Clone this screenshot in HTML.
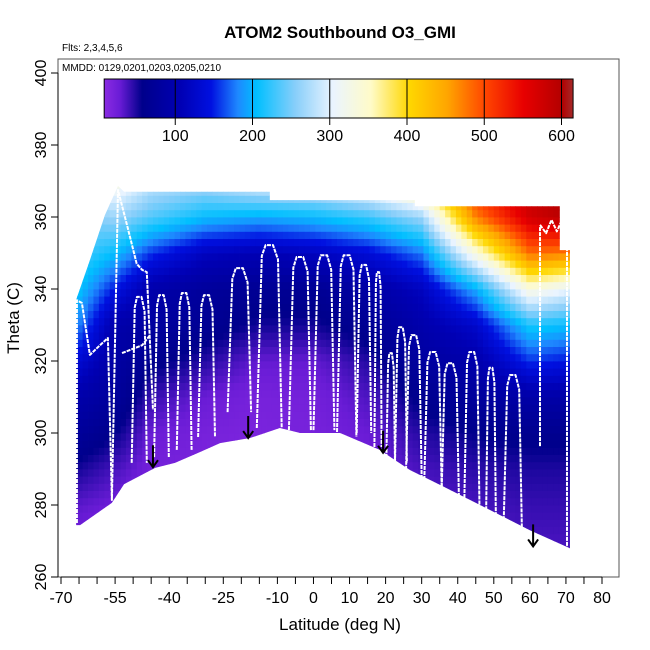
<!DOCTYPE html>
<html><head><meta charset="utf-8"><style>
body{margin:0;background:#fff}
svg{display:block;font-family:"Liberation Sans",Arial,sans-serif}
</style></head><body>
<svg id="c" width="650" height="650" viewBox="0 0 650 650">
<defs>
<clipPath id="curtain"><polygon id="clipPoly"/></clipPath>
<linearGradient id="cbar" x1="0" x2="1" y1="0" y2="0"></linearGradient>
</defs>
<text x="340" y="38" text-anchor="middle" font-size="17" font-weight="bold">ATOM2 Southbound O3_GMI</text>
<text x="62" y="51" font-size="10">Flts: 2,3,4,5,6</text>
<rect x="58" y="59" width="561" height="518" fill="none" stroke="#555" stroke-width="1"/>
<text x="62" y="71" font-size="10">MMDD: 0129,0201,0203,0205,0210</text>
<g id="heat" clip-path="url(#curtain)"></g>
<g id="track"></g>
<g id="arrows"></g>
<g id="cb"></g>
<g id="xax"></g>
<g id="yax"></g>
<text x="340" y="630" text-anchor="middle" font-size="17">Latitude (deg N)</text>
<text transform="translate(19,318) rotate(-90)" text-anchor="middle" font-size="17">Theta (C)</text>
</svg>
<script>
const gridLats=[-66,-55,-45,-30,-15,0,15,30,45,60,71];
const gridThetas=[270,280,290,300,310,320,330,340,350,360,370];
const o3_m66=[15,25,45,70,90,130,180,210,230,240,240];
const o3_m55=[12,18,30,50,70,80,90,140,200,260,330];
const o3_m45=[8,10,14,20,35,55,75,90,150,230,280];
const o3_m30=[8,8,10,12,20,40,60,70,110,200,270];
const o3_m15=[8,8,8,10,12,22,45,60,100,190,300];
const o3_0=[8,8,10,12,14,22,45,60,110,200,300];
const o3_15=[12,12,15,20,28,40,60,80,130,220,330];
const o3_30=[22,25,30,40,55,75,90,110,170,260,400];
const o3_45=[25,30,38,50,70,90,120,190,330,470,520];
const o3_60=[30,35,42,55,85,150,210,330,480,570,590];
const o3_71=[30,35,42,55,85,140,200,300,470,600,600];
const o3Cols=[o3_m66,o3_m55,o3_m45,o3_m30,o3_m15,o3_0,o3_15,o3_30,o3_45,o3_60,o3_71];
const bottomLat=[-65.8,-64.7,-55.9,-52.5,-43.9,-38.4,-31.5,-25.9,-17.6,-9.3,-3.7,7.4,18.4,26.8,35.1,46.2,60,71.1];
const bottomTheta=[274.4,274.4,280.6,285.8,290.3,291.7,294.7,297.2,298.6,301.4,300,300,295.3,289.7,285.6,280,273,268];
const topLat=[71.1,68.3,68.3,28.1,28.1,-12.1,-12.1,-52.5,-54.2,-57.8,-62,-65.8];
const topTheta=[350.8,350.8,363,363,364.7,364.7,367,367,368.6,360.6,348,337];
const leftLat=[-65.6,-65.6,-64.2,-62.0,-59.2,-57.0,-55.9,-54.2,-51.5,-49.0,-47.5,-46.2,-44.5];
const leftTheta=[275.0,336.9,336.1,321.7,324.4,326.4,281.4,367.5,357,347,345.3,344.7,306.4];
const diveUpLat=[-50.4,-44.2,-37.9,-32.0,-23.8,-15.7,-6.8,0.0,6.5,12.0,16.9,20.2,22.6,25.6,30.6,35.4,41.7,47.8,52.7];
const diveDownLat=[-46.2,-40.1,-33.8,-27.3,-17.3,-8.8,-0.7,5.8,11.9,16.0,18.9,22.6,25.9,30.0,35.6,40.4,46.1,50.6,57.8];
const diveTop=[337.8,338.3,338.9,338.3,345.8,352.2,348.9,349.4,349.4,346.7,344.7,322.2,329.4,327.2,322.5,319.4,322.5,318.1,316.1];
const diveBottom=[291.7,293.3,295.3,298.9,305.8,301.4,300.8,300.8,298.9,300.0,296.1,291.7,291.7,287.0,281.4,278.0,275.0,273.0,273.0];
const track2Lat=[-53.1,-47.5,-45.3];
const track2Theta=[322.2,324.4,327.2];
const trackRLat=[62.8,62.8];
const trackRTheta=[357.2,296.1];
const trackELat=[70.3,70.3];
const trackETheta=[351.7,268.3];
const squigLat=[62.8,64.5,66,67.5,68.9,68.9];
const squigTheta=[357.8,355.5,359.2,356,359.2,351.7];
const arrowLat=[-44.5,-18.1,19.3,60.9];
const arrowTheta=[290.5,298.6,294.5,268.5];
const cbStops=[0,20,50,100,140,175,200,250,300,350,400,450,500,550,600,615];
const cbColors=["#8a2be2","#6a1cd6","#00008b","#0000b4","#0010e0","#1e88ff","#00bfff","#87cefa","#eaf4ff","#fffbc8","#ffd700","#ffa500","#ff4500","#e80000","#b30000","#a52a2a"];
const xTicks=[-70,-65,-60,-55,-50,-45,-40,-35,-30,-25,-20,-15,-10,-5,0,5,10,15,20,25,30,35,40,45,50,55,60,65,70,75,80];
const xLabels=[-70,-55,-40,-25,-10,0,10,20,30,40,50,60,70,80];
const yTicks=[260,280,300,320,340,360,380,400];
const cbTicks=[100,200,300,400,500,600];

const NS="http://www.w3.org/2000/svg";
const X=l=>61+(l+70)*541/150;
const Y=t=>577-(t-260)*3.6;
const CB=v=>98+v*0.7725;
function mk(tag,attrs,parent){const e=document.createElementNS(NS,tag);for(const k in attrs)e.setAttribute(k,attrs[k]);parent.appendChild(e);return e;}
function hex(h){return [1,3,5].map(i=>parseInt(h.substr(i,2),16));}
function col(v){
  if(v<=cbStops[0])return cbColors[0];
  for(let i=1;i<cbStops.length;i++){if(v<=cbStops[i]){const f=(v-cbStops[i-1])/(cbStops[i]-cbStops[i-1]);const a=hex(cbColors[i-1]),b=hex(cbColors[i]);return "rgb("+a.map((x,j)=>Math.round(x+(b[j]-x)*f)).join(",")+")";}}
  return cbColors[cbColors.length-1];
}
function idx(arr,v){let i=0;while(i<arr.length-2&&v>arr[i+1])i++;let f=(v-arr[i])/(arr[i+1]-arr[i]);f=Math.max(0,Math.min(1,f));return [i,f];}
function o3(l,t){const [i,fi]=idx(gridLats,l);const [j,fj]=idx(gridThetas,t);
  const a=o3Cols[i][j]*(1-fj)+o3Cols[i][j+1]*fj;const b=o3Cols[i+1][j]*(1-fj)+o3Cols[i+1][j+1]*fj;return a*(1-fi)+b*fi;}
const pts=[];bottomLat.forEach((l,i)=>pts.push(X(l)+","+Y(bottomTheta[i])));topLat.forEach((l,i)=>pts.push(X(l)+","+Y(topTheta[i])));
document.getElementById('clipPoly').setAttribute('points',pts.join(" "));
const heat=document.getElementById('heat');
for(let l=-67;l<72;l+=1.5){for(let t=266;t<370;t+=2){
  const r=mk('rect',{x:X(l).toFixed(2),y:Y(t+2).toFixed(2),width:(1.5*541/150+0.4).toFixed(2),height:7.6,fill:col(o3(l+0.75,t+1))},heat);
  
  
}}
const track=document.getElementById('track');
function line(la,th,name){const p=mk('polyline',{points:la.map((l,i)=>X(l).toFixed(1)+","+Y(th[i]).toFixed(1)).join(" "),fill:"none",stroke:"#fff","stroke-width":2,"stroke-dasharray":"4 1","stroke-linejoin":"round"},track);
  
  }
line(leftLat,leftTheta,'track-left');
diveUpLat.forEach((u,i)=>{
  const d=diveDownLat[i],w=(d-u);
  line([u,u+w*0.2,u+w*0.35,d-w*0.35,d-w*0.15,d],[diveBottom[i],diveTop[i]-3,diveTop[i],diveTop[i],diveTop[i]-4,diveBottom[i]],'track-dive');
});
line(track2Lat,track2Theta,'track-secondary');
line(trackRLat,trackRTheta,'track-right');
line(trackELat,trackETheta,'track-edge');
line(squigLat,squigTheta,'track-squiggle');
const ar=document.getElementById('arrows');
arrowLat.forEach((l,i)=>{const x=X(l),y=Y(arrowTheta[i]);
  const g=mk('path',{d:`M${x},${y-22}V${y} M${x-5},${y-7}L${x},${y}L${x+5},${y-7}`,stroke:"#000","stroke-width":2,fill:"none"},ar);
  
  });
const gr=document.getElementById('cbar');
cbStops.forEach((s,i)=>mk('stop',{offset:(s/615*100).toFixed(1)+"%","stop-color":cbColors[i]},gr));
const cb=document.getElementById('cb');
const cbr=mk('rect',{x:CB(8),y:79,width:CB(615)-CB(8),height:39,fill:"url(#cbar)",stroke:"#000","stroke-width":1},cb);


cbTicks.forEach(v=>{mk('line',{x1:CB(v),x2:CB(v),y1:79,y2:125,stroke:"#000","stroke-width":1},cb);
  const t=mk('text',{x:CB(v),y:141,"text-anchor":"middle","font-size":16},cb);t.textContent=v;
  
  });
const xa=document.getElementById('xax');
mk('line',{x1:X(-70),x2:X(80),y1:577,y2:577,stroke:"#000"},xa);
xTicks.forEach(v=>mk('line',{x1:X(v),x2:X(v),y1:577,y2:584,stroke:"#000"},xa));
xLabels.forEach(v=>{const t=mk('text',{x:X(v),y:603,"text-anchor":"middle","font-size":16},xa);t.textContent=v;
  
  });
const ya=document.getElementById('yax');
mk('line',{x1:58,x2:58,y1:Y(260),y2:Y(400),stroke:"#000"},ya);
yTicks.forEach(v=>{mk('line',{x1:51,x2:58,y1:Y(v),y2:Y(v),stroke:"#000"},ya);
  const t=mk('text',{transform:`translate(46,${Y(v)}) rotate(-90)`,"text-anchor":"middle","font-size":16},ya);t.textContent=v;
  
  });
</script>
</body></html>
